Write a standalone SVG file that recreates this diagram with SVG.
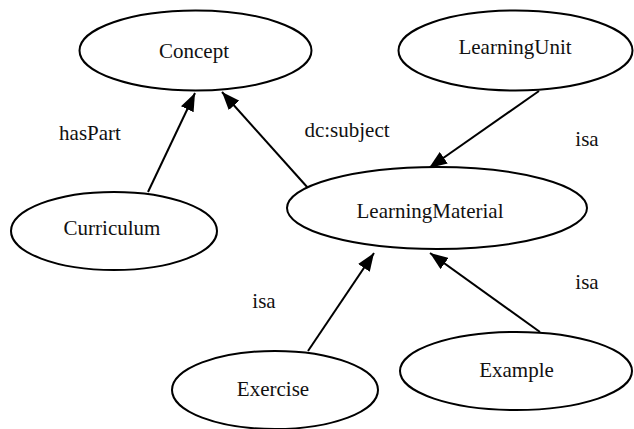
<svg xmlns="http://www.w3.org/2000/svg" width="634" height="429" viewBox="0 0 634 429">
<style>
.n ellipse{fill:#fff;stroke:#000;stroke-width:2}
.t{font-family:'Liberation Serif','Times New Roman','DejaVu Serif',serif;font-size:21px;fill:#111;text-anchor:middle}
.e line{stroke:#000;stroke-width:2;marker-end:url(#ah)}
</style>
<defs>
<marker id="ah" viewBox="0 0 18 14" refX="18" refY="7" markerWidth="18" markerHeight="14" markerUnits="userSpaceOnUse" orient="auto">
<path d="M0,0 L18,7 L0,14 z" fill="#000"/>
</marker>
</defs>
<rect width="634" height="429" fill="#fff"/>
<g id="connectors" class="e">
<line x1="148" y1="192" x2="195" y2="93"/>
<line x1="308" y1="188" x2="222" y2="92"/>
<line x1="539" y1="91" x2="429" y2="168"/>
<line x1="308" y1="351" x2="374" y2="253"/>
<line x1="540" y1="332" x2="430" y2="253"/>
</g>
<g id="labels" class="t" font-family="Liberation Serif, serif">
<text x="90" y="140">hasPart</text>
<text x="347" y="137">dc:subject</text>
<text x="587" y="146">isa</text>
<text x="264" y="308">isa</text>
<text x="587" y="289">isa</text>
</g>
<g id="Concept" class="n"><ellipse cx="195.5" cy="50.5" rx="116" ry="40"/><text class="t" x="194" y="58">Concept</text></g>
<g id="LearningUnit" class="n"><ellipse cx="515.5" cy="50.5" rx="117" ry="40"/><text class="t" x="515" y="54">LearningUnit</text></g>
<g id="LearningMaterial" class="n"><ellipse cx="437" cy="208" rx="150" ry="41"/><text class="t" x="430" y="218">LearningMaterial</text></g>
<g id="Curriculum" class="n"><ellipse cx="114" cy="231" rx="103" ry="39"/><text class="t" x="112" y="235">Curriculum</text></g>
<g id="Exercise" class="n"><ellipse cx="275" cy="390" rx="103" ry="39"/><text class="t" x="273" y="396">Exercise</text></g>
<g id="Example" class="n"><ellipse cx="516" cy="371" rx="116" ry="39"/><text class="t" x="516.5" y="377">Example</text></g>
</svg>
